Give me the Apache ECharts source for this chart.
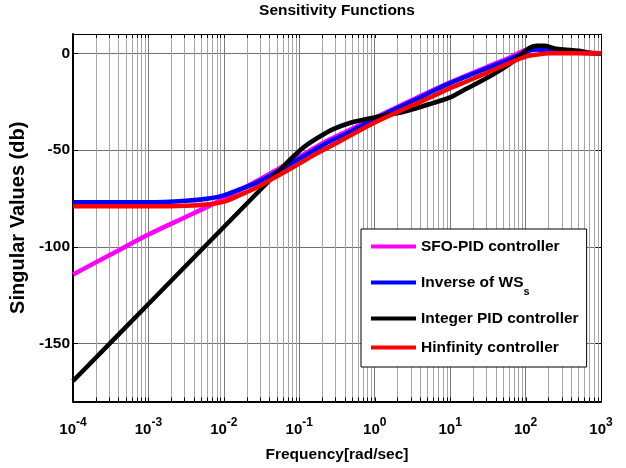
<!DOCTYPE html>
<html><head><meta charset="utf-8">
<script src="https://cdn.jsdelivr.net/npm/echarts@6/dist/echarts.min.js"></script>
<style>html,body{margin:0;padding:0;background:#fff}#c{width:626px;height:468px}</style>
</head><body><div id="c"></div>
<script>
const FONT = "'Liberation Sans',Arial,Helvetica,sans-serif";

// Axis ticks
const xTickExponents = [-4, -3, -2, -1, 0, 1, 2, 3];
const xMinorMultipliers = [2, 3, 4, 5, 6, 7, 8, 9];
const yTickValues = [-150, -100, -50, 0];

// Series names (legend order)
const seriesNames = ['SFO-PID controller', 'Inverse of WSs', 'Integer PID controller', 'Hinfinity controller'];
const seriesColors = ['#ff00ff', '#0000ff', '#000000', '#ff0000'];

// log10(frequency) and dB values
const sfoLogF = [-4, -3.5, -3, -2.5, -2.2, -2.0, -1.8, -1.6, -1.4, -1.2, -1.0, -0.6, -0.3, 0, 0.5, 1.0, 1.5, 1.8, 1.9, 2.0, 2.1, 2.2, 2.4, 2.7, 3];
const sfoDb   = [-114.3, -104.0, -93.7, -84.5, -79.0, -75.0, -71.0, -66.8, -62.5, -58.0, -53.5, -44.6, -39.0, -33.3, -24.0, -15.0, -6.8, -2.0, 0.0, 1.8, 2.5, 2.2, 1.2, 0.3, 0];

const wsLogF = [-4, -3, -2.5, -2.2, -2.0, -1.8, -1.6, -1.4, -1.2, -1.0, -0.8, -0.6, -0.3, 0, 0.3, 0.6, 0.8, 1.0, 1.2, 1.4, 1.6, 1.8, 1.95, 2.05, 2.15, 2.3, 2.5, 2.7, 3.0];
const wsDb   = [-77.0, -77.0, -76.2, -75.0, -73.4, -70.5, -67.5, -63.5, -59.0, -54.5, -50.0, -45.6, -40.0, -34.0, -28.3, -22.8, -19.0, -15.4, -12.2, -9.0, -6.0, -2.8, -0.3, 1.4, 2.0, 1.3, 0.7, 0.3, 0];

const pidLogF = [-4, -3, -2, -1.5, -1.2, -1.0, -0.9, -0.77, -0.55, -0.33, -0.1, 0.11, 0.33, 0.55, 0.77, 1.0, 1.2, 1.4, 1.6, 1.8, 1.95, 2.05, 2.15, 2.25, 2.37, 2.5, 2.7, 2.85, 3.0];
const pidDb   = [-169.4, -129.6, -89.8, -69.9, -58.0, -50.5, -47.3, -44.0, -39.2, -36.0, -33.9, -32.2, -30.7, -28.4, -25.7, -22.8, -18.6, -14.6, -10.2, -5.2, -0.2, 2.8, 3.9, 3.9, 2.7, 2.0, 1.3, 0.3, 0];

const hinfLogF = [-4, -3, -2.5, -2.2, -2.0, -1.8, -1.6, -1.4, -1.2, -1.0, -0.8, -0.6, -0.3, 0, 0.3, 0.6, 0.8, 1.0, 1.2, 1.4, 1.6, 1.8, 2.0, 2.2, 2.3, 3.0];
const hinfDb   = [-79.1, -79.1, -78.8, -78.0, -76.7, -73.5, -70.0, -65.8, -61.5, -57.0, -52.5, -48.3, -42.0, -35.8, -30.3, -25.2, -21.6, -18.0, -14.8, -11.5, -8.2, -4.8, -1.7, -0.4, 0, 0];

function pairs(logF, db) { return logF.map((e, i) => [Math.pow(10, e), db[i]]); }

const Y_MIN = -180, Y_MAX = 10, X_MIN = 1e-4, X_MAX = 1e3;

// tick positions along the log axis (major + minor)
const tickData = [];
xTickExponents.forEach(e => {
  tickData.push([Math.pow(10, e), 1]);
  if (e < xTickExponents[xTickExponents.length - 1]) {
    xMinorMultipliers.forEach(m => tickData.push([m * Math.pow(10, e), 0]));
  }
});

const chart = echarts.init(document.getElementById('c'), null, {renderer: 'canvas'});

const lineSeries = [
  [sfoLogF, sfoDb], [wsLogF, wsDb], [pidLogF, pidDb], [hinfLogF, hinfDb]
].map((d, i) => ({
  name: seriesNames[i],
  type: 'line',
  data: pairs(d[0], d[1]),
  showSymbol: false,
  smooth: 0.3,
  z: 3 + i,
  lineStyle: {color: seriesColors[i], width: 4.5},
  itemStyle: {color: seriesColors[i]},
  emphasis: {disabled: true},
  animation: false
}));

const tickSeries = {
  type: 'custom',
  name: 'ticks',
  silent: true,
  z: 1,
  animation: false,
  data: tickData,
  encode: {x: 0, y: 1},
  renderItem: function (params, api) {
    const v = api.value(0);
    const major = api.value(1);
    const pt = api.coord([v, Y_MAX]);
    const pb = api.coord([v, Y_MIN]);
    const x = Math.round(pt[0]) + 0.5;
    const children = [];
    if (!major) {
      children.push({type: 'line', shape: {x1: x, y1: pt[1], x2: x, y2: pb[1]},
        style: {stroke: '#a6a6a6', lineWidth: 1}});
    }
    children.push({type: 'line', shape: {x1: x, y1: pt[1], x2: x, y2: pt[1] + 4}, style: {stroke: '#000', lineWidth: 1}});
    children.push({type: 'line', shape: {x1: x, y1: pb[1], x2: x, y2: pb[1] - 4}, style: {stroke: '#000', lineWidth: 1}});
    return {type: 'group', children: children};
  }
};

const option = {
  backgroundColor: '#fff',
  animation: false,
  title: {
    text: 'Sensitivity Functions',
    left: 337, top: 3, textAlign: 'center', padding: 0,
    textStyle: {fontFamily: FONT, fontWeight: 'bold', fontSize: 15.5, color: '#000'}
  },
  grid: {left: 73, right: 25, top: 34, bottom: 65, containLabel: false},
  legend: {
    data: seriesNames,
    orient: 'vertical',
    left: 361, top: 229,
    padding: [9.5, 8, 11.5, 10],
    itemGap: 13,
    itemWidth: 45, itemHeight: 4,
    icon: 'rect',
    backgroundColor: '#fff',
    borderColor: '#000', borderWidth: 1,
    selectedMode: false,
    textStyle: {
      fontFamily: FONT, fontWeight: 'bold', fontSize: 15.5, color: '#000', lineHeight: 15,
      rich: {
        n: {fontFamily: FONT, fontWeight: 'bold', fontSize: 15.5, color: '#000', lineHeight: 30},
        sub: {fontFamily: FONT, fontWeight: 'bold', fontSize: 11, color: '#000', lineHeight: 11, verticalAlign: 'bottom'}
      }
    },
    formatter: function (name) {
      if (name === 'Inverse of WSs') return '{n|Inverse of WS}{sub|s}';
      return name;
    }
  },
  xAxis: [{
    type: 'log', logBase: 10, min: X_MIN, max: X_MAX, position: 'bottom',
    name: 'Frequency[rad/sec]', nameLocation: 'middle', nameGap: 45.5,
    nameTextStyle: {fontFamily: FONT, fontWeight: 'bold', fontSize: 15.5, color: '#000'},
    axisLine: {show: true, onZero: false, lineStyle: {color: '#000', width: 2}},
    axisTick: {show: false},
    splitLine: {show: true, lineStyle: {color: '#7a7a7a', width: 1}},
    minorTick: {show: false}, minorSplitLine: {show: false},
    axisLabel: {
      margin: 15,
      formatter: function (v) {
        const e = Math.round(Math.log10(v));
        return '{b|10}{s|' + e + '}';
      },
      rich: {
        b: {fontFamily: FONT, fontWeight: 'bold', fontSize: 15, color: '#000', lineHeight: 26},
        s: {fontFamily: FONT, fontWeight: 'bold', fontSize: 12, color: '#000', lineHeight: 12, verticalAlign: 'top'}
      }
    }
  }, {
    type: 'log', logBase: 10, min: X_MIN, max: X_MAX, position: 'top',
    axisLine: {show: true, onZero: false, lineStyle: {color: '#000', width: 1}},
    axisTick: {show: false}, axisLabel: {show: false}, splitLine: {show: false}
  }],
  yAxis: [{
    type: 'value', min: Y_MIN, max: Y_MAX, position: 'left',
    name: 'Singular Values (db)', nameLocation: 'middle', nameGap: 35,
    nameTextStyle: {fontFamily: FONT, fontWeight: 'bold', fontSize: 20, color: '#000'},
    axisLine: {show: true, onZero: false, lineStyle: {color: '#000', width: 2}},
    axisTick: {show: true, inside: true, length: 5, customValues: yTickValues, lineStyle: {color: '#000', width: 1}},
    axisLabel: {customValues: yTickValues, margin: 3, fontFamily: FONT, fontWeight: 'bold', fontSize: 15.5, color: '#000'},
    splitLine: {show: true, lineStyle: {color: '#6e6e6e', width: 1}}
  }, {
    type: 'value', min: Y_MIN, max: Y_MAX, position: 'right',
    axisLine: {show: true, onZero: false, lineStyle: {color: '#000', width: 1}},
    axisTick: {show: true, inside: true, length: 5, customValues: yTickValues, lineStyle: {color: '#000', width: 1}},
    axisLabel: {show: false}, splitLine: {show: false}
  }],
  series: [tickSeries].concat(lineSeries)
};
chart.setOption(option);
</script>
</body></html>
